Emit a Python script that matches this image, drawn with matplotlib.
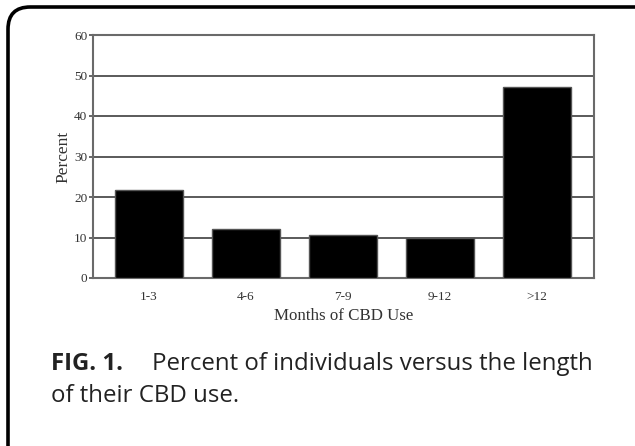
import matplotlib
matplotlib.use("Agg")
import matplotlib.pyplot as plt
from matplotlib.patches import FancyBboxPatch

categories = ["1-3", "4-6", "7-9", "9-12", ">12"]
percent = [21.8, 12.0, 10.7, 9.9, 47.1]
yticks = [0, 10, 20, 30, 40, 50, 60]

fig = plt.figure(figsize=(6.35, 4.46), dpi=100)
W, H = 635, 446

# rounded outer frame (clipped on right/bottom)
box = FancyBboxPatch((8 / W, -0.3), 1.2, 1 - 7 / H + 0.3,
                     boxstyle="round,pad=0,rounding_size=0.035",
                     transform=fig.transFigure, fill=False,
                     edgecolor="black", linewidth=2.6, mutation_aspect=W / H)
fig.patches.append(box)

ax = fig.add_axes([93 / W, 1 - 278 / H, (594 - 93) / W, (278 - 35) / H])
x = list(range(len(categories)))
ax.bar(x, percent, width=0.71, color="black", edgecolor="#555555",
       linewidth=1.0, zorder=3)
ax.set_xlim(-0.577, 4.587)
ax.set_ylim(0, 60)
ax.set_yticks(yticks)
ax.set_xticks(x)
ax.set_xticklabels(categories)
ax.yaxis.grid(True, color="#5a5a5a", linewidth=1.4, zorder=0)
ax.set_axisbelow(True)
for s in ax.spines.values():
    s.set_color("#6a6a6a")
    s.set_linewidth(1.5)
ax.tick_params(axis="x", length=0, pad=9, labelsize=9.5, labelcolor="#333333")
ax.tick_params(axis="y", length=3, width=1.3, color="#5a5a5a", pad=1,
               labelsize=9.5, labelcolor="#333333")
for lab in ax.get_xticklabels() + ax.get_yticklabels():
    lab.set_family("Liberation Serif")
ax.set_xlabel("Months of CBD Use", family="Liberation Serif", fontsize=12.2,
              color="#333333", labelpad=4)
ax.set_ylabel("Percent", family="Liberation Serif", fontsize=12.5,
              color="#333333", labelpad=2)

cap_fs = 17.3
fig.text(51 / W, 1 - 370 / H, "FIG. 1.", family="Open Sans", weight="bold",
         fontsize=cap_fs, color="#222222", va="baseline", ha="left")
fig.text(152 / W, 1 - 370 / H, "Percent of individuals versus the length",
         family="Open Sans", fontsize=cap_fs, color="#222222", va="baseline", ha="left")
fig.text(51 / W, 1 - 402 / H, "of their CBD use.", family="Open Sans",
         fontsize=cap_fs, color="#222222", va="baseline", ha="left")

fig.savefig("out.png", dpi=100)
